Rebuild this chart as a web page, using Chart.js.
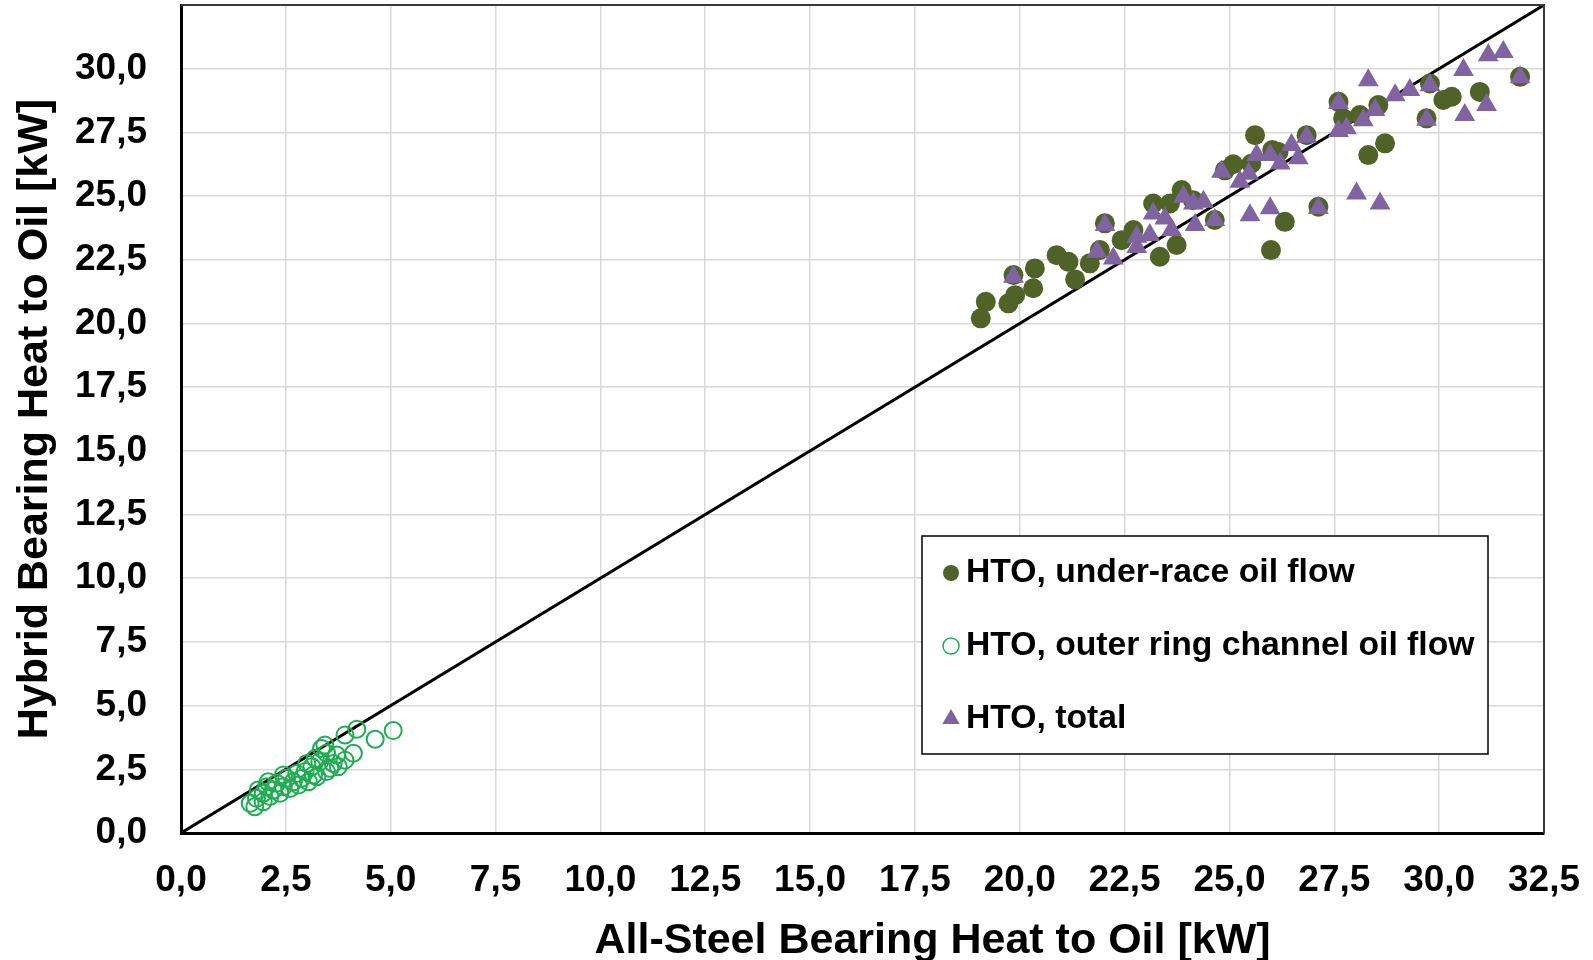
<!DOCTYPE html>
<html>
<head>
<meta charset="utf-8">
<script src="https://cdn.jsdelivr.net/npm/chart.js@4.4.0/dist/chart.umd.min.js"></script>
<style>
  html, body { margin: 0; padding: 0; background: #fff; }
  #wrap { width: 1593px; height: 960px; }
</style>
</head>
<body>
<div id="wrap"><canvas id="htoChart" width="1593" height="960"></canvas></div>
<script>
// Heat to oil, hybrid vs all-steel bearing [kW]
const underRaceX = [19.07, 19.19, 19.73, 19.89, 19.85, 20.32, 20.36, 20.88, 21.16, 21.32, 21.67, 21.91, 22.03, 22.43, 22.71,
  23.34, 23.74, 23.18, 23.58, 23.86, 24.65, 24.89, 25.09, 25.61, 25.52, 26.02, 26.17, 25.99, 26.32, 26.84,
  27.12, 27.60, 27.71, 28.11, 28.55, 28.31, 28.71, 29.70, 29.78, 30.10, 30.30, 30.97, 31.93, 24.13];
const underRaceY = [20.20, 20.85, 20.79, 21.11, 21.90, 21.38, 22.16, 22.68, 22.42, 21.73, 22.36, 22.88, 23.93, 23.27, 23.67,
  22.62, 23.08, 24.71, 24.71, 25.24, 24.06, 26.01, 26.25, 27.39, 26.27, 26.81, 26.73, 22.88, 23.99, 27.39,
  24.58, 28.70, 28.05, 28.18, 28.57, 26.61, 27.07, 28.05, 29.42, 28.77, 28.90, 29.09, 29.68, 24.84];

const outerRingX = [5.06, 4.63, 4.19, 3.91, 4.11, 3.91, 3.75, 3.55, 3.47, 3.35, 3.31, 3.12, 3.16, 2.96, 2.88, 2.76, 2.68, 2.52,
  2.44, 2.28, 2.20, 2.04, 1.96, 1.84, 1.80, 1.65, 1.76, 1.96, 2.12, 2.36, 2.60, 2.80, 3.04, 3.24, 3.47, 3.63,
  3.00, 3.20, 3.43, 3.71, 2.08, 2.44];
const outerRingY = [4.02, 3.68, 4.07, 3.85, 3.13, 2.86, 2.60, 2.54, 3.13, 3.32, 2.80, 2.60, 2.28, 2.41, 2.15, 2.34, 2.01, 2.15,
  1.82, 1.95, 1.69, 1.82, 1.56, 1.69, 1.36, 1.17, 1.03, 1.23, 1.43, 1.56, 1.75, 1.88, 2.01, 2.21, 2.41, 2.73,
  2.73, 2.93, 3.45, 3.06, 2.01, 2.28];

const totalX = [19.85, 21.84, 22.23, 22.03, 22.79, 22.79, 23.10, 23.18, 23.46, 23.62, 23.90, 24.14, 24.18, 24.38, 24.65,
  25.25, 25.65, 25.97, 26.21, 26.48, 26.64, 25.49, 25.97, 26.84, 27.12, 27.60, 27.79, 27.60, 28.19, 28.47,
  28.31, 28.03, 28.59, 28.95, 29.30, 29.70, 29.78, 30.58, 30.61, 31.13, 31.17, 31.53, 31.93, 24.81, 25.46];
const totalY = [21.83, 22.81, 22.55, 23.86, 23.40, 23.00, 23.47, 24.32, 24.12, 23.67, 24.97, 24.71, 23.86, 24.78, 24.06,
  25.56, 26.61, 26.61, 26.28, 27.00, 26.48, 24.25, 24.52, 27.33, 24.53, 28.65, 27.66, 27.55, 27.98, 28.38,
  29.55, 25.10, 24.71, 28.96, 29.16, 28.00, 29.35, 29.95, 28.18, 28.57, 30.53, 30.66, 29.66, 25.95, 25.88];

// 1:1 reference line
const parityX = [0, 32.5];
const parityY = [0, 32.5];

const seriesLabels = ['HTO, under-race oil flow', 'HTO, outer ring channel oil flow', 'HTO, total'];
const axisTitleX = 'All-Steel Bearing Heat to Oil [kW]';
const axisTitleY = 'Hybrid Bearing Heat to Oil [kW]';

const toPoints = (xs, ys) => xs.map((x, i) => ({ x: x, y: ys[i] }));
const fmt = v => Number(v).toFixed(1).replace('.', ',');

Chart.defaults.font.family = "'Liberation Sans', Arial, sans-serif";
Chart.defaults.color = '#000';

// fixed axis box sizes, no extra label overhang padding
function fixBox(size, prop) {
  return s => {
    s[prop] = size;
    s.paddingLeft = s.paddingRight = s.paddingTop = s.paddingBottom = 0;
  };
}

// axis titles + boxed legend + top/right frame
const decorations = {
  id: 'decorations',
  afterDraw(chart) {
    const { ctx, chartArea: a } = chart;
    ctx.save();

    // frame on top and right
    ctx.strokeStyle = '#3a3a3a';
    ctx.lineWidth = 2;
    ctx.beginPath();
    ctx.moveTo(a.left, a.top);
    ctx.lineTo(a.right, a.top);
    ctx.lineTo(a.right, a.bottom);
    ctx.stroke();

    // axis titles
    ctx.fillStyle = '#000';
    ctx.font = "bold 43px 'Liberation Sans', Arial, sans-serif";
    ctx.textAlign = 'center';
    ctx.textBaseline = 'alphabetic';
    ctx.fillText(axisTitleX, (a.left + a.right) / 2 + 70, 953);
    ctx.save();
    ctx.translate(47, (a.top + a.bottom) / 2);
    ctx.rotate(-Math.PI / 2);
    ctx.fillText(axisTitleY, 0, 0);
    ctx.restore();

    // legend box
    const bx = 922, by = 536, bw = 566, bh = 218;
    ctx.fillStyle = '#fff';
    ctx.fillRect(bx, by, bw, bh);
    ctx.strokeStyle = '#000';
    ctx.lineWidth = 1.5;
    ctx.strokeRect(bx, by, bw, bh);

    const legendSets = [1, 2, 3].map(i => chart.data.datasets[i]);
    ctx.font = "bold 33.7px 'Liberation Sans', Arial, sans-serif";
    ctx.textAlign = 'left';
    ctx.textBaseline = 'middle';
    legendSets.forEach((ds, i) => {
      const cy = by + 37 + i * 73;
      const mx = bx + 29;
      const r = ds.pointStyle === 'triangle' ? 10 : 8;
      ctx.save();
      ctx.fillStyle = ds.pointBackgroundColor;
      ctx.strokeStyle = ds.pointBorderColor;
      ctx.lineWidth = Math.min(ds.pointBorderWidth, 1.5);
      ctx.beginPath();
      if (ds.pointStyle === 'triangle') {
        ctx.moveTo(mx, cy - r);
        ctx.lineTo(mx + r * 0.866, cy + r * 0.5);
        ctx.lineTo(mx - r * 0.866, cy + r * 0.5);
        ctx.closePath();
      } else {
        ctx.arc(mx, cy, r, 0, Math.PI * 2);
      }
      ctx.fill();
      if (ds.pointBorderWidth > 0) ctx.stroke();
      ctx.restore();
      ctx.fillStyle = '#000';
      ctx.fillText(ds.label, bx + 44, cy);
    });

    ctx.restore();
  }
};

new Chart(document.getElementById('htoChart'), {
  type: 'scatter',
  data: {
    datasets: [
      {
        label: '1:1',
        type: 'line',
        data: toPoints(parityX, parityY),
        showLine: true,
        borderColor: '#000',
        borderWidth: 3,
        pointRadius: 0,
        order: 4
      },
      {
        label: seriesLabels[0],
        data: toPoints(underRaceX, underRaceY),
        pointStyle: 'circle',
        pointRadius: 10,
        pointBackgroundColor: '#4f6228',
        pointBorderColor: '#4f6228',
        pointBorderWidth: 0,
        order: 2
      },
      {
        label: seriesLabels[1],
        data: toPoints(outerRingX, outerRingY),
        pointStyle: 'circle',
        pointRadius: 8.5,
        pointBackgroundColor: 'rgba(0,0,0,0)',
        pointBorderColor: '#1fae52',
        pointBorderWidth: 2,
        order: 3
      },
      {
        label: seriesLabels[2],
        data: toPoints(totalX, totalY),
        pointStyle: 'triangle',
        pointRadius: 12,
        pointBackgroundColor: '#8064a2',
        pointBorderColor: '#8064a2',
        pointBorderWidth: 0,
        order: 1
      }
    ]
  },
  options: {
    responsive: false,
    animation: false,
    layout: { autoPadding: false, padding: { left: 0, right: 49, top: 5, bottom: 0 } },
    plugins: {
      legend: { display: false },
      tooltip: { enabled: false }
    },
    scales: {
      x: {
        type: 'linear',
        min: 0,
        max: 32.5,
        afterFit: fixBox(127, 'height'),
        ticks: {
          stepSize: 2.5,
          padding: 26,
          font: { size: 37, weight: 'bold' },
          maxRotation: 0,
          callback: v => fmt(v)
        },
        grid: { color: '#d9d9d9', lineWidth: 1.5, drawTicks: false },
        border: { color: '#000', width: 3 }
      },
      y: {
        type: 'linear',
        min: 0,
        max: 32.5,
        afterFit: fixBox(181, 'width'),
        ticks: {
          stepSize: 2.5,
          padding: 34,
          font: { size: 37, weight: 'bold' },
          callback: v => (v > 30 ? '' : fmt(v))
        },
        grid: { color: '#d9d9d9', lineWidth: 1.5, drawTicks: false },
        border: { color: '#000', width: 3 }
      }
    }
  },
  plugins: [decorations]
});
</script>
</body>
</html>
